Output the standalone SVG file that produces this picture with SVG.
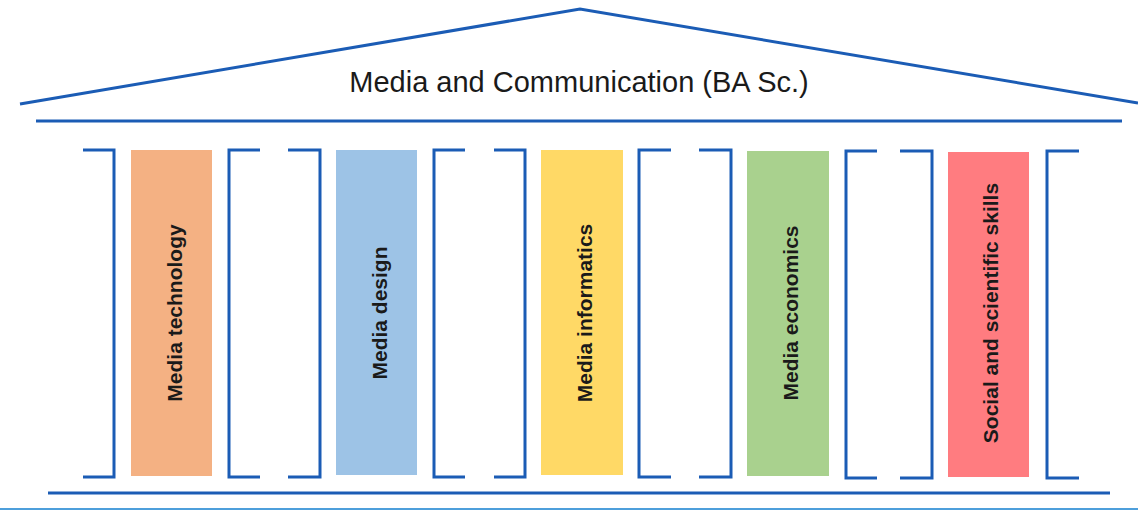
<svg xmlns="http://www.w3.org/2000/svg" width="1138" height="510" viewBox="0 0 1138 510">
<style>
.ln{fill:none;stroke:#1B5CB5;stroke-width:3;stroke-linecap:butt;stroke-linejoin:miter}
.title{font-family:"Liberation Sans",Arial,sans-serif;font-size:29px;fill:#1a1a1a}
.lbl{font-family:"Liberation Sans",Arial,sans-serif;font-size:21px;font-weight:bold;fill:#1a1a1a}
</style>
<rect width="1138" height="510" fill="#ffffff"/>
<g id="structure">
<polyline class="ln" points="20,104 580,9 1138,103"/>
<line class="ln" x1="36" y1="121" x2="1122" y2="121"/>
<line class="ln" x1="48" y1="493" x2="1110" y2="493"/>
<line x1="0" y1="509" x2="1138" y2="509" stroke="#4E9FDB" stroke-width="2"/>
</g>
<g id="connectors">
<polyline class="ln" points="83,150 114,150 114,477 83,477"/>
<polyline class="ln" points="260,150 229,150 229,477 260,477"/>
<polyline class="ln" points="288,150 320,150 320,477 288,477"/>
<polyline class="ln" points="465,150 434,150 434,477 465,477"/>
<polyline class="ln" points="494,150 525,150 525,477 494,477"/>
<polyline class="ln" points="671,150 639,150 639,477 671,477"/>
<polyline class="ln" points="699,150 731,150 731,477 699,477"/>
<polyline class="ln" points="877,151 846,151 846,478 877,478"/>
<polyline class="ln" points="900,151 932,151 932,478 900,478"/>
<polyline class="ln" points="1079,151 1047,151 1047,478 1079,478"/>
</g>
<g id="title">
<text class="title" x="579" y="92" text-anchor="middle">Media and Communication (BA Sc.)</text>
</g>
<g id="pillar-technology">
<rect x="131" y="150" width="81" height="326" fill="#F4B183"/>
<text class="lbl" transform="translate(182,313) rotate(-90)" text-anchor="middle">Media technology</text>
</g>
<g id="pillar-design">
<rect x="336" y="150" width="81" height="325" fill="#9DC3E6"/>
<text class="lbl" transform="translate(387,313) rotate(-90)" text-anchor="middle">Media design</text>
</g>
<g id="pillar-informatics">
<rect x="541" y="150" width="82" height="325" fill="#FFD966"/>
<text class="lbl" transform="translate(592,313) rotate(-90)" text-anchor="middle">Media informatics</text>
</g>
<g id="pillar-economics">
<rect x="747" y="151" width="82" height="325" fill="#A9D18E"/>
<text class="lbl" transform="translate(798,313) rotate(-90)" text-anchor="middle">Media economics</text>
</g>
<g id="pillar-social">
<rect x="948" y="152" width="81" height="325" fill="#FF7C80"/>
<text class="lbl" transform="translate(998,313) rotate(-90)" text-anchor="middle">Social and scientific skills</text>
</g>
</svg>
